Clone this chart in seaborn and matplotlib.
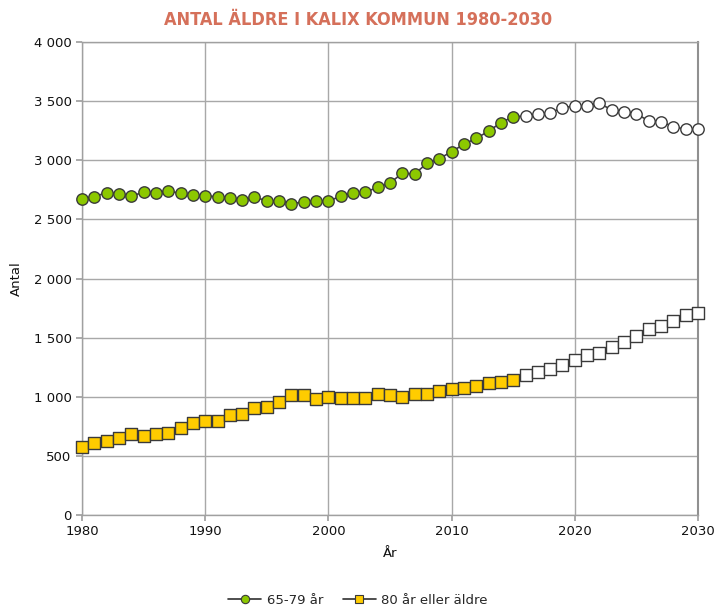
import matplotlib
matplotlib.use("Agg")
import matplotlib.pyplot as plt
import seaborn as sns
import pandas as pd
from matplotlib.lines import Line2D
from matplotlib.ticker import FuncFormatter, MultipleLocator

years = list(range(1980, 2031))
age_65_79 = [2672, 2692, 2726, 2715, 2698, 2729, 2726, 2740, 2720, 2703,
             2698, 2692, 2681, 2661, 2687, 2658, 2655, 2633, 2647, 2658,
             2652, 2698, 2723, 2730, 2771, 2808, 2890, 2884, 2974, 3013,
             3073, 3135, 3186, 3245, 3318, 3368, 3374, 3391, 3402, 3444,
             3459, 3459, 3482, 3425, 3411, 3391, 3334, 3326, 3284, 3262,
             3265]
age_80_plus = [573, 606, 626, 648, 682, 671, 688, 696, 733, 781,
               795, 797, 846, 854, 902, 916, 958, 1012, 1015, 978,
               995, 987, 987, 987, 1023, 1015, 995, 1023, 1020, 1051,
               1063, 1074, 1091, 1119, 1125, 1142, 1184, 1212, 1237, 1268,
               1311, 1350, 1367, 1424, 1466, 1514, 1573, 1598, 1643, 1689,
               1711]
last_observed = 2015
series_names = ["65-79 år", "80 år eller äldre"]
title = "ANTAL ÄLDRE I KALIX KOMMUN 1980-2030"

df = pd.DataFrame({"År": years, series_names[0]: age_65_79, series_names[1]: age_80_plus})
df["observed"] = df["År"] <= last_observed

sns.set_theme(style="white")
plt.rcParams['font.family'] = ['DejaVu Sans']

fig = plt.figure(figsize=(7.16, 6.06), dpi=100)
ax = fig.add_axes([82/716, 1-515/606, (698-82)/716, (515-42)/606])

green = "#8CC800"
yellow = "#FFCC00"
edge = "#3A3A3A"

styles = [(series_names[0], "o", green, 8.2), (series_names[1], "s", yellow, 8.0)]
handles = []
for name, mk, col, ms in styles:
    sns.lineplot(data=df, x="År", y=name, ax=ax, color="#404040", lw=1.2, zorder=2)
    obs = df[df["observed"]]
    proj = df[~df["observed"]]
    sns.scatterplot(data=obs, x="År", y=name, ax=ax, marker=mk, s=ms**2,
                    color=col, edgecolor=edge, linewidth=1.0, zorder=3, clip_on=False)
    sns.scatterplot(data=proj, x="År", y=name, ax=ax, marker=mk, s=ms**2,
                    color="white", edgecolor=edge, linewidth=1.0, zorder=3, clip_on=False)
    handles.append(Line2D([0], [0], color="#303030", lw=1.2, marker=mk,
                          markersize=6, markerfacecolor=col, markeredgecolor=edge,
                          markeredgewidth=0.8, label=name))

ax.set_xlim(1980, 2030)
ax.set_ylim(0, 4000)
ax.xaxis.set_major_locator(MultipleLocator(10))
ax.yaxis.set_major_locator(MultipleLocator(500))
ax.yaxis.set_major_formatter(FuncFormatter(lambda v, p: f"{int(v):,}".replace(",", " ")))
ax.grid(True, color="#A8A8A8", lw=1.0)
ax.set_axisbelow(True)
for s in ["left", "bottom", "right", "top"]:
    ax.spines[s].set_visible(True)
    ax.spines[s].set_color("#A0A0A0")
    ax.spines[s].set_linewidth(1.0)
ax.spines["right"].set_color("#909090")
ax.spines["right"].set_linewidth(1.5)
ax.tick_params(axis="both", which="major", length=4, color="#A0A0A0",
               labelsize=9.5, labelcolor="#111111", bottom=True, left=True, direction="out")
ax.set_xlabel("År", fontsize=9.5, color="#111111", labelpad=6)
ax.set_ylabel("Antal", fontsize=9.5, color="#111111", labelpad=8)

fig.text(0.5, 1-20/606, title, ha="center", va="center", fontsize=13,
         fontweight="bold", color="#D5705A", fontstretch="condensed",
         family=["DejaVu Sans"])

fig.legend(handles=handles, loc="center", bbox_to_anchor=(0.5, 1-600/606),
           ncol=2, frameon=False, fontsize=9.5, handlelength=2.5, columnspacing=1.5,
           handletextpad=0.4)

fig.savefig("out.png", dpi=100)
